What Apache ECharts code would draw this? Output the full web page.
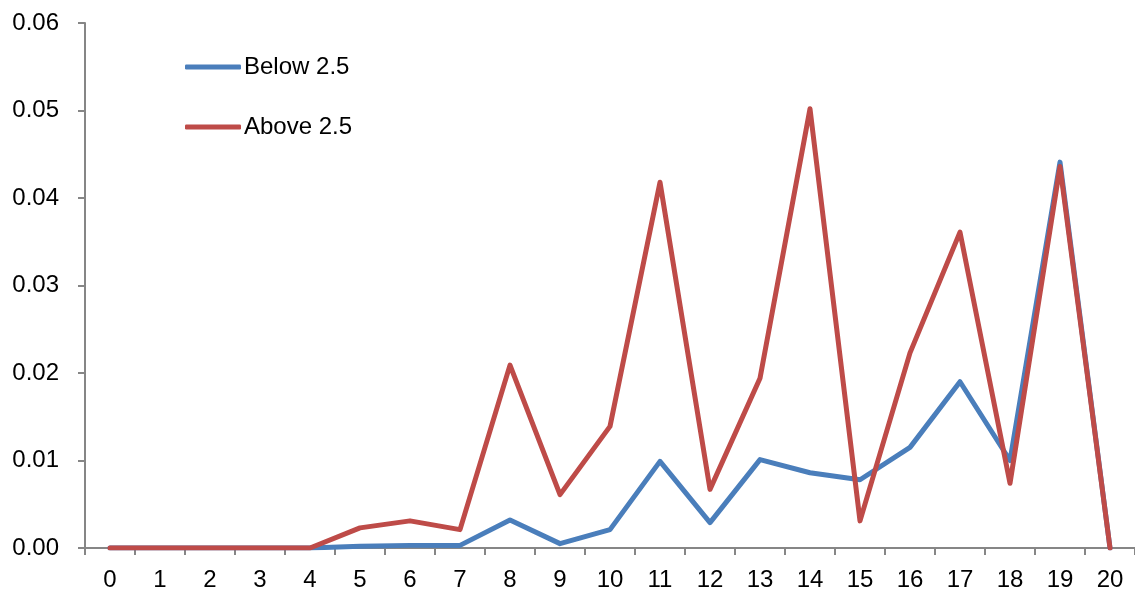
<!DOCTYPE html>
<html>
<head>
<meta charset="utf-8">
<script src="https://cdn.jsdelivr.net/npm/echarts@6/dist/echarts.min.js"></script>
<style>
html,body{margin:0;padding:0;background:#fff;}
#chart{width:1135px;height:596px;}
</style>
</head>
<body>
<div id="chart"></div>
<script>
const categories = ['0','1','2','3','4','5','6','7','8','9','10','11','12','13','14','15','16','17','18','19','20'];
const below = [0,0,0,0,0,0.0002,0.0003,0.0003,0.0032,0.0005,0.0021,0.0099,0.0029,0.0101,0.0086,0.0078,0.0115,0.0190,0.0100,0.0441,0];
const above = [0,0,0,0,0,0.0023,0.0031,0.0021,0.0209,0.0061,0.0139,0.0418,0.0067,0.0194,0.0502,0.0031,0.0223,0.0361,0.0074,0.0436,0];
const yTicks = [0,0.01,0.02,0.03,0.04,0.05,0.06];
const seriesNames = ['Below 2.5','Above 2.5'];
const colors = ['#4A7EBB','#BE4B48'];

const chart = echarts.init(document.getElementById('chart'), null, {renderer:'canvas'});
const font = '"Liberation Sans", Arial, sans-serif';
const axisColor = '#868686';
const fs = 24;
function legend(name, top){
  return {
    data:[name], left:185, top:top, orient:'vertical',
    icon:'roundRect', itemWidth:56, itemHeight:5,
    textStyle:{fontFamily:font, fontSize:fs, color:'#000', lineHeight:26, padding:[0,0,0,-2]},
    padding:0, selectedMode:false
  };
}
chart.setOption({
  animation:false,
  color:colors,
  legend:[legend(seriesNames[0],54), legend(seriesNames[1],114)],
  grid:{left:85, right:0, top:23, bottom:48, containLabel:false},
  xAxis:{
    type:'category', data:categories, boundaryGap:true,
    axisLine:{lineStyle:{color:axisColor, width:2}},
    axisTick:{show:true, length:7, lineStyle:{color:axisColor, width:2}, alignWithLabel:false},
    axisLabel:{fontFamily:font, fontSize:fs, color:'#000', margin:20, interval:0}
  },
  yAxis:{
    type:'value', min:yTicks[0], max:yTicks[yTicks.length-1], interval:0.01,
    axisLine:{show:true, lineStyle:{color:axisColor, width:2}},
    axisTick:{show:true, length:7, lineStyle:{color:axisColor, width:2}},
    splitLine:{show:false},
    axisLabel:{fontFamily:font, fontSize:fs, color:'#000', margin:26, formatter:v=>v.toFixed(2)}
  },
  series:[
    {name:seriesNames[0], type:'line', data:below, symbol:'none', lineStyle:{width:5, color:colors[0], cap:'round', join:'round'}},
    {name:seriesNames[1], type:'line', data:above, symbol:'none', lineStyle:{width:5, color:colors[1], cap:'round', join:'round'}}
  ]
});
</script>
</body>
</html>
